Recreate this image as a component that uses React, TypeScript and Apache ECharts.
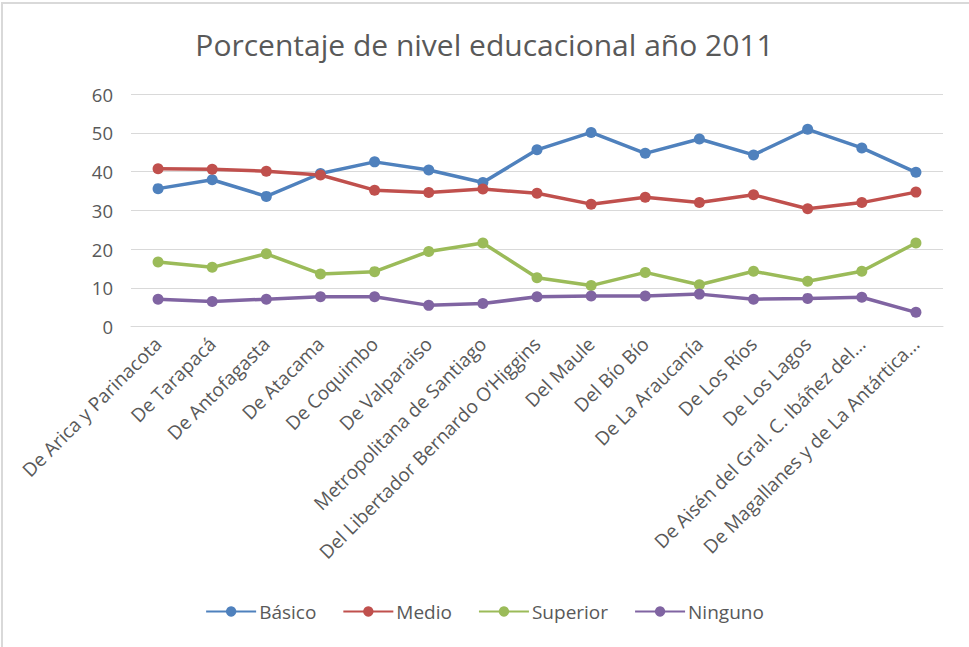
import React, { useEffect, useRef } from "react";
import * as echarts from "echarts";

const categories = [
  "De Arica y Parinacota",
  "De Tarapacá",
  "De Antofagasta",
  "De Atacama",
  "De Coquimbo",
  "De Valparaiso",
  "Metropolitana de Santiago",
  "Del Libertador Bernardo O\u2019Higgins",
  "Del Maule",
  "Del Bío Bío",
  "De La Araucanía",
  "De Los Ríos",
  "De Los Lagos",
  "De Aisén del Gral. C. Ibáñez del...",
  "De Magallanes y de La Antártica...",
];

const basico = [35.6, 37.9, 33.6, 39.5, 42.5, 40.4, 37.2, 45.6, 50.1, 44.7, 48.4, 44.3, 50.9, 46.1, 39.8];
const medio = [40.7, 40.6, 40.1, 39.1, 35.2, 34.6, 35.5, 34.4, 31.6, 33.4, 32.0, 34.0, 30.4, 32.0, 34.7];
const superior = [16.7, 15.3, 18.8, 13.6, 14.2, 19.4, 21.6, 12.6, 10.6, 14.0, 10.8, 14.3, 11.7, 14.3, 21.6];
const ninguno = [7.1, 6.5, 7.1, 7.7, 7.7, 5.5, 6.0, 7.7, 7.9, 7.9, 8.4, 7.1, 7.3, 7.6, 3.7];

const yTicks = [0, 10, 20, 30, 40, 50, 60];

const FONT = "'Open Sans', 'Noto Sans', sans-serif";

export default function App() {
  const ref = useRef<HTMLDivElement>(null);
  useEffect(() => {
    if (!ref.current) return;
    const chart = echarts.init(ref.current, undefined, { renderer: "svg" });
    const mk = (name: string, data: number[], color: string) => ({
      name,
      type: "line",
      data,
      symbol: "circle",
      symbolSize: 11,
      lineStyle: { color, width: 3.5 },
      itemStyle: { color },
    });
    chart.setOption({
      animation: false,
      backgroundColor: "#ffffff",
      textStyle: { fontFamily: FONT },
      title: {
        text: "Porcentaje de nivel educacional año 2011",
        left: "center",
        top: 24,
        textStyle: { fontFamily: FONT, fontSize: 30, fontWeight: "normal", color: "#595959" },
      },
      graphic: [
        {
          type: "rect",
          shape: { x: 2, y: 3, width: 1000, height: 700 },
          style: { fill: "none", stroke: "#d9d9d9", lineWidth: 2 },
          silent: true,
        },
      ],
      legend: {
        bottom: 21,
        left: "center",
        itemWidth: 50,
        itemHeight: 13,
        itemGap: 26,
        data: ["Básico", "Medio", "Superior", "Ninguno"],
        textStyle: { fontFamily: FONT, fontSize: 19, color: "#595959", padding: [0, 0, 0, -2] },
      },
      grid: { left: 131, right: 26, top: 94, height: 232.7, containLabel: false },
      xAxis: {
        type: "category",
        data: categories,
        boundaryGap: true,
        axisLine: { show: true, lineStyle: { color: "#d9d9d9", width: 1 } },
        axisTick: { show: false },
        axisLabel: {
          rotate: 45,
          interval: 0,
          margin: 14,
          fontFamily: FONT,
          fontSize: 19,
          color: "#595959",
        },
      },
      yAxis: {
        type: "value",
        min: 0,
        max: 60,
        interval: 10,
        axisLine: { show: false },
        axisTick: { show: false },
        splitLine: { lineStyle: { color: "#d9d9d9", width: 1 } },
        axisLabel: {
          margin: 18,
          fontFamily: FONT,
          fontSize: 18.5,
          color: "#595959",
          formatter: (v: number) => (yTicks.includes(v) ? String(v) : ""),
        },
      },
      series: [
        mk("Básico", basico, "#4F81BD"),
        mk("Medio", medio, "#C0504D"),
        mk("Superior", superior, "#9BBB59"),
        mk("Ninguno", ninguno, "#8064A2"),
      ],
    });
    return () => chart.dispose();
  }, []);
  return (
    <div
      ref={ref}
      style={{ position: "absolute", left: 0, top: 0, width: 969, height: 647, background: "#fff" }}
    />
  );
}
